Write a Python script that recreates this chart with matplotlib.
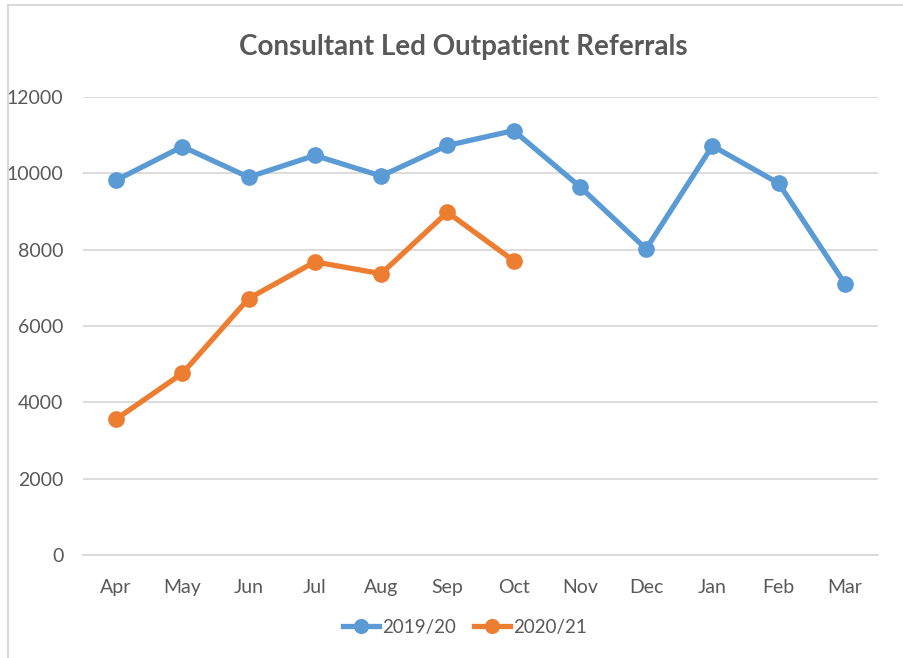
import matplotlib.pyplot as plt
import numpy as np

months = ['Apr', 'May', 'Jun', 'Jul', 'Aug', 'Sep', 'Oct', 'Nov', 'Dec', 'Jan', 'Feb', 'Mar']
ref_1920 = [9820, 10700, 9900, 10470, 9930, 10730, 11120, 9650, 8020, 10720, 9740, 7110]
ref_2021 = [3560, 4760, 6720, 7680, 7370, 8980, 7710]

plt.rcParams['font.family'] = ['Lato', 'DejaVu Sans']

fig = plt.figure(figsize=(9.04, 6.58), dpi=100)
ax = fig.add_axes([83 / 904, 1 - 555 / 658, (878 - 83) / 904, (555 - 97) / 658])

x = np.arange(len(months))
ax.plot(x, ref_1920, color='#5B9BD5', lw=3.8, marker='o', ms=11, label='2019/20', zorder=3)
ax.plot(x[:len(ref_2021)], ref_2021, color='#ED7D31', lw=3.8, marker='o', ms=11, label='2020/21', zorder=3)

ax.set_xlim(-0.5, len(months) - 0.5)
ax.set_ylim(0, 12000)
ax.set_yticks(range(0, 12001, 2000))
ax.set_xticks(x)
ax.set_xticklabels(months)
ax.grid(axis='y', color='#D9D9D9', lw=1.3)
ax.set_axisbelow(True)
for s in ['top', 'right', 'left']:
    ax.spines[s].set_visible(False)
ax.spines['bottom'].set_color('#D9D9D9')
ax.spines['bottom'].set_linewidth(1.3)
ax.tick_params(axis='both', length=0, labelsize=14, colors='#595959')
ax.tick_params(axis='x', pad=17)
ax.tick_params(axis='y', pad=14)

fig.text(0.512, 1 - 47 / 658, 'Consultant Led Outpatient Referrals', ha='center', va='center',
         fontsize=20, fontweight='bold', color='#595959')

fig.legend(loc='center', bbox_to_anchor=(465 / 904, 1 - 627 / 658), ncol=2, frameon=False,
           fontsize=13.5, labelcolor='#595959', handlelength=1.9, handletextpad=0.15, columnspacing=1.0,
           markerscale=0.9)

# chart border (top and left edges visible)
fig.add_artist(plt.Line2D([7.5 / 904, 7.5 / 904], [0, 1 - 4.5 / 658], transform=fig.transFigure,
                          color='#D9D9D9', lw=1.5))
fig.add_artist(plt.Line2D([7.5 / 904, 1], [1 - 4.5 / 658, 1 - 4.5 / 658], transform=fig.transFigure,
                          color='#D9D9D9', lw=1.5))

fig.savefig('out.png', dpi=100)
